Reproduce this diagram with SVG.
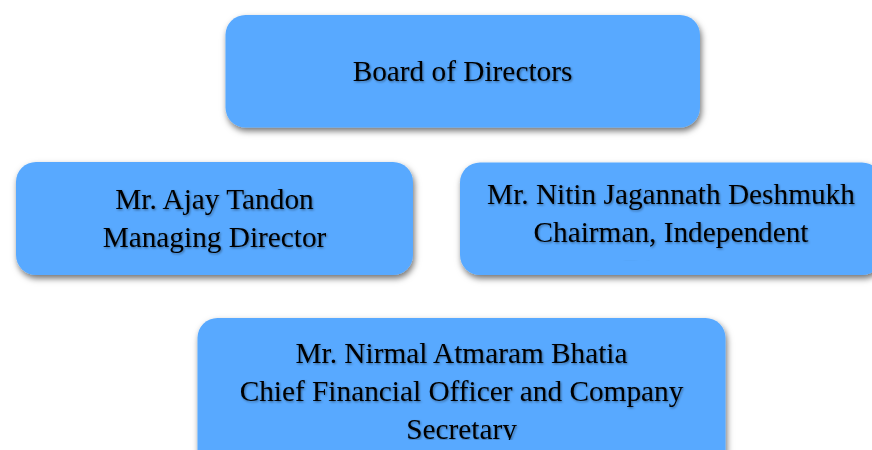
<svg xmlns="http://www.w3.org/2000/svg" width="872" height="450" viewBox="0 0 872 450">
<defs>
<style>
.box{fill:#58A9FF;filter:url(#bs)}
.t{font-family:"Liberation Serif","Times New Roman",serif;font-size:29.3px;fill:#000;text-anchor:middle;filter:url(#ts)}
</style>
<filter id="bs" x="-10%" y="-20%" width="120%" height="150%">
<feDropShadow dx="1.5" dy="3.5" stdDeviation="3" flood-color="#000" flood-opacity="0.55"/>
</filter>
<filter id="ts" x="-5%" y="-20%" width="110%" height="150%">
<feDropShadow dx="1" dy="1.2" stdDeviation="0.9" flood-color="#000" flood-opacity="0.4"/>
</filter>
<clipPath id="c3"><rect x="460" y="162" width="430" height="98.8"/></clipPath>
<clipPath id="c4"><rect x="197" y="318" width="530" height="122"/></clipPath>
</defs>
<rect width="872" height="450" fill="#fff"/>
<g id="connectors"></g>
<g id="board">
<rect class="box" x="225.5" y="15" width="474.5" height="112.5" rx="20"/>
<text class="t" x="462.5" y="81">Board of Directors</text>
</g>
<g id="tandon">
<rect class="box" x="16" y="162" width="397" height="113" rx="20"/>
<text class="t" x="214.5" y="209">Mr. Ajay Tandon</text>
<text class="t" x="214.5" y="247">Managing Director</text>
</g>
<g id="deshmukh">
<rect class="box" x="460" y="162.5" width="422" height="112.5" rx="20"/>
<g clip-path="url(#c3)">
<text class="t" x="671" y="204">Mr. Nitin Jagannath Deshmukh</text>
<text class="t" x="671" y="242">Chairman, Independent</text>
<text class="t" x="671" y="280">Director</text>
</g>
</g>
<g id="bhatia">
<rect class="box" x="197.5" y="318" width="528" height="160" rx="20"/>
<g clip-path="url(#c4)">
<text class="t" x="461.5" y="363">Mr. Nirmal Atmaram Bhatia</text>
<text class="t" x="461.5" y="401">Chief Financial Officer and Company</text>
<text class="t" x="461.5" y="438.5">Secretary</text>
</g>
</g>
</svg>
